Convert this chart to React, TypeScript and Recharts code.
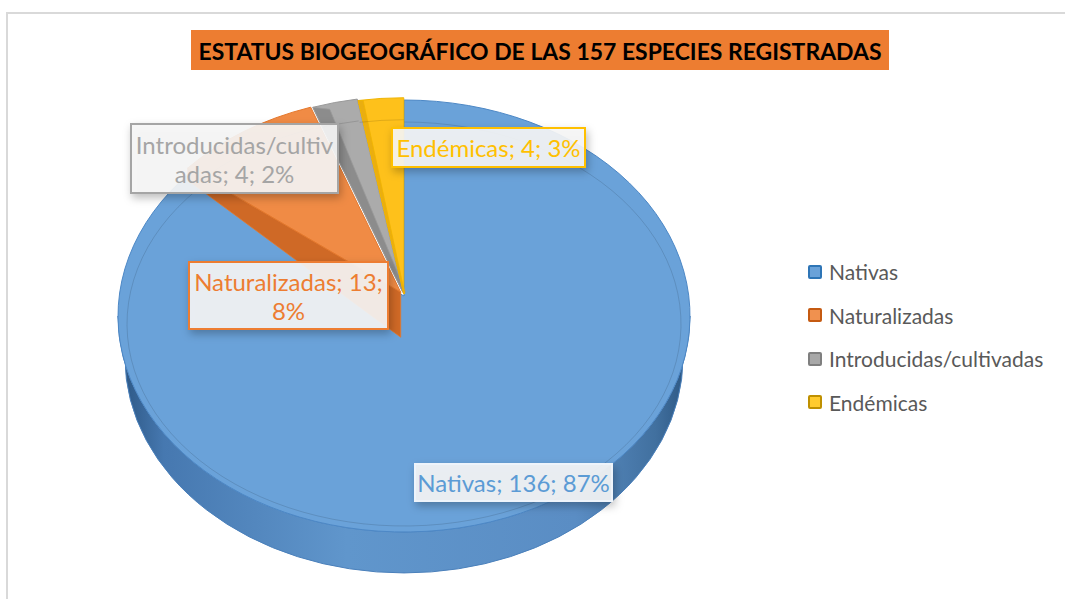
import { PieChart, Pie, Legend } from "recharts";

const NAMES = ["Nativas", "Naturalizadas", "Introducidas/cultivadas", "Endémicas"];
const VALUES = [136, 13, 4, 4];
const PERCENTS = ["87%", "8%", "2%", "3%"];
const TITLE = "ESTATUS BIOGEOGRÁFICO DE LAS 157 ESPECIES REGISTRADAS";

const data = NAMES.map((name, i) => ({ name, value: VALUES[i] }));

// slice colours
const TOP = ["#6aa2d9", "#f08b45", "#ababab", "#fec11b"];
const EDGE = ["#4d88c6", "#e5782c", "#9a9a9a", "#f0b400"];
const FACE = ["#4d82bb", "#cf6926", "#8c8c8c", "#eaae10"];
const TEXT = ["#5b9bd5", "#ed7d31", "#a5a5a5", "#ffc000"];
const BORDER = ["#eef4fb", "#ed7d31", "#a5a5a5", "#ffc000"];
const LEGEND_FILL = ["#6aa2d9", "#f0914f", "#a8a8a8", "#ffcb2e"];
const LEGEND_BORDER = ["#2e75b6", "#c55a11", "#7f7f7f", "#bf9000"];

// 3d look
const RATIO = 216 / 286;
const DEPTH = 42;
const VDY = -20; // apex sits above the ellipse centre (perspective)
const BOTTOM_SHRINK = 7; // bottom rim a bit narrower, so the wall shows only in front
const EXPLODE = [0, 6, 5, 3];
// cut face per slice: rim offset, apex offset
const FACES: (number[] | null)[] = [null, [0, 12, 0, 45], [17, 2, 3, 0], [5, 0, 1, 0]];

// label boxes: centre x, centre y, width, height, wrap position
const BOXES = [
  [513.5, 482.5, 197, 37, 0],
  [288.5, 295.5, 199, 67, 18],
  [234.5, 158.5, 207, 69, 19],
  [488.5, 147.5, 193, 39, 0],
];

const rad = (d: number) => (d * Math.PI) / 180;
const pt = (cx: number, cy: number, rx: number, ry: number, deg: number) =>
  [cx + rx * Math.cos(rad(deg)), cy - ry * Math.sin(rad(deg))] as [number, number];
const f = (p: number[]) => `${p[0].toFixed(2)},${p[1].toFixed(2)}`;

function renderSlice(p: any) {
  const { cx, cy, outerRadius, startAngle, endAngle, midAngle, index } = p;
  const rx = outerRadius;
  const ry = outerRadius * RATIO;
  const e = EXPLODE[index];
  const ecx = cx + e * Math.cos(rad(midAngle));
  const ecy = cy - e * RATIO * Math.sin(rad(midAngle));
  const v = [ecx, ecy + VDY];
  const a = pt(ecx, ecy, rx, ry, startAngle);
  const b = pt(ecx, ecy, rx, ry, endAngle);
  const large = Math.abs(startAngle - endAngle) > 180 ? 1 : 0;
  const top = `M${f(v)} L${f(a)} A${rx} ${ry} 0 ${large} 1 ${f(b)} Z`;

  // front wall (lower half of the ellipse)
  const walls: string[] = [];
  const lo = Math.min(startAngle, endAngle);
  const hi = Math.max(startAngle, endAngle);
  const rxB = rx - BOTTOM_SHRINK;
  const ryB = ry - 1;
  for (let k = -1; k <= 1; k++) {
    const s = Math.max(lo, -180 + 360 * k);
    const t = Math.min(hi, 360 * k);
    if (s < t) {
      const p1 = pt(ecx, ecy, rx, ry, s);
      const p2 = pt(ecx, ecy, rx, ry, t);
      const q2 = pt(ecx, ecy + DEPTH, rxB, ryB, t);
      const q1 = pt(ecx, ecy + DEPTH, rxB, ryB, s);
      walls.push(`M${f(p1)} A${rx} ${ry} 0 0 0 ${f(p2)} L${f(q2)} A${rxB} ${ryB} 0 0 1 ${f(q1)} Z`);
    }
  }

  const fc = FACES[index];
  const face = fc
    ? `M${f(a)} L${f(v)} L${f([v[0] + fc[2], v[1] + fc[3]])} L${f([a[0] + fc[0], a[1] + fc[1]])} Z`
    : null;

  const irx = rx - 9;
  const iry = ry - 14;
  const ia = pt(ecx, ecy + 8, irx, iry, startAngle);
  const ib = pt(ecx, ecy + 8, irx, iry, endAngle);
  const bevel = `M${f(ia)} A${irx} ${iry} 0 ${large} 1 ${f(ib)}`;

  return (
    <g key={`slice-${index}`}>
      {index === 0 && (
        <defs>
          <linearGradient id="wallGrad" gradientUnits="userSpaceOnUse" x1={cx - rx} x2={cx + rx} y1={0} y2={0}>
            <stop offset="0" stopColor="#2a5480" />
            <stop offset="0.08" stopColor="#4678b0" />
            <stop offset="0.4" stopColor="#6096cc" />
            <stop offset="0.8" stopColor="#5a8dc4" />
            <stop offset="0.94" stopColor="#41709f" />
            <stop offset="1" stopColor="#2a5480" />
          </linearGradient>
          <filter id="boxShadow" x="-20%" y="-30%" width="140%" height="170%">
            <feDropShadow dx="2" dy="4" stdDeviation="4" floodColor="#000" floodOpacity="0.28" />
          </filter>
        </defs>
      )}
      {walls.map((w, i) => (
        <path key={i} d={w} fill="url(#wallGrad)" stroke="#4a80bb" strokeWidth={1} />
      ))}
      <path d={top} fill={TOP[index]} stroke={EDGE[index]} strokeWidth={1} strokeLinejoin="round" />
      {face && <path d={face} fill={FACE[index]} stroke={EDGE[index]} strokeWidth={0.8} />}
      <path d={bevel} fill="none" stroke="#000" strokeOpacity={0.12} strokeWidth={1} />
    </g>
  );
}

function renderLabel(p: any) {
  const { index } = p;
  const [bx, by, bw, bh, wrap] = BOXES[index];
  const full = `${NAMES[index]}; ${VALUES[index]}; ${PERCENTS[index]}`;
  const lines = wrap ? [full.slice(0, wrap).trim(), full.slice(wrap).trim()] : [full];
  const lh = 29;
  const y0 = by - ((lines.length - 1) * lh) / 2;
  return (
    <g key={`label-${index}`}>
      <rect
        x={bx - bw / 2}
        y={by - bh / 2}
        width={bw}
        height={bh}
        fill="#f6f6f6"
        fillOpacity={0.9}
        stroke={BORDER[index]}
        strokeWidth={2}
        filter="url(#boxShadow)"
      />
      {lines.map((ln, i) => (
        <text
          key={i}
          x={bx}
          y={y0 + i * lh}
          textAnchor="middle"
          dominantBaseline="central"
          fontFamily="Lato, sans-serif"
          fontSize={24}
          fill={TEXT[index]}
        >
          {ln}
        </text>
      ))}
    </g>
  );
}

function renderLegend() {
  return (
    <div style={{ fontFamily: "Lato, sans-serif", fontSize: 21, color: "#595959" }}>
      {NAMES.map((n, i) => (
        <div key={n} style={{ display: "flex", alignItems: "center", height: 43.5 }}>
          <span
            style={{
              display: "inline-block",
              width: 10,
              height: 10,
              background: LEGEND_FILL[i],
              border: `2px solid ${LEGEND_BORDER[i]}`,
              borderRadius: 2,
              marginRight: 7,
            }}
          />
          {n}
        </div>
      ))}
    </div>
  );
}

export default function App() {
  return (
    <div style={{ position: "absolute", left: 0, top: 0, width: 1065, height: 599, background: "#fff", overflow: "hidden" }}>
      <div
        style={{
          position: "absolute",
          left: 6,
          top: 12,
          width: 1070,
          height: 600,
          borderTop: "2px solid #d9d9d9",
          borderLeft: "2px solid #d9d9d9",
        }}
      />
      <svg style={{ position: "absolute", left: 191, top: 30 }} width={698} height={40}>
        <rect x={0} y={0} width={698} height={40} fill="#ed7d31" />
        <text
          x={349}
          y={21}
          textAnchor="middle"
          dominantBaseline="central"
          fontFamily="Lato, sans-serif"
          fontWeight={700}
          fontSize={23}
          textLength={683}
          lengthAdjust="spacingAndGlyphs"
          fill="#000"
        >
          {TITLE}
        </text>
      </svg>
      <div style={{ position: "absolute", left: 0, top: 0 }}>
        <PieChart width={1065} height={599} margin={{ top: 0, right: 0, bottom: 0, left: 0 }}>
          <Pie
            data={data}
            dataKey="value"
            nameKey="name"
            cx={404}
            cy={316}
            outerRadius={286}
            startAngle={90}
            endAngle={-270}
            fill="transparent"
            stroke="none"
            labelLine={false}
            label={renderSlice}
            isAnimationActive={false}
          />
          <Pie
            data={data}
            dataKey="value"
            nameKey="name"
            cx={404}
            cy={316}
            outerRadius={286}
            startAngle={90}
            endAngle={-270}
            fill="transparent"
            stroke="none"
            labelLine={false}
            label={renderLabel}
            legendType="none"
            isAnimationActive={false}
          />
          <Legend
            layout="vertical"
            align="right"
            verticalAlign="middle"
            content={renderLegend}
            wrapperStyle={{ left: 808, top: 250, width: 257, right: "auto" }}
          />
        </PieChart>
      </div>
    </div>
  );
}
